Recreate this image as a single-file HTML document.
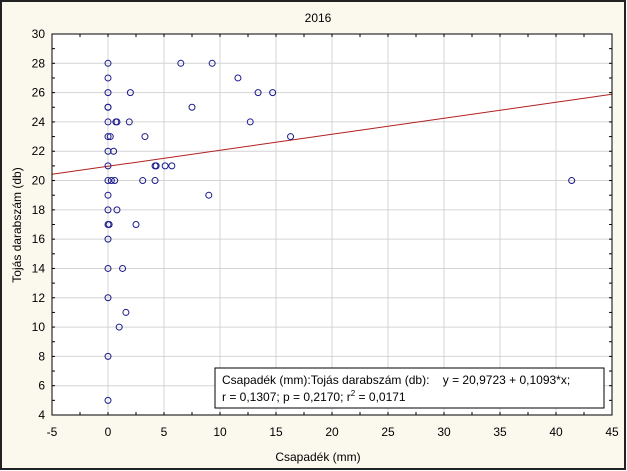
<!DOCTYPE html>
<html><head><meta charset="utf-8"><style>
body{margin:0;background:#fff}
svg{display:block;font-family:"Liberation Sans",sans-serif}
text{white-space:pre}
</style></head><body>
<svg id="chart" width="627" height="471">
<rect x="1" y="1" width="624" height="468" fill="#fbf8ee" stroke="#222" stroke-width="2"/>
<text x="318" y="22" font-size="12" text-anchor="middle">2016</text>
<rect x="52" y="34" width="560" height="381" fill="#fff"/>
<g id="grid"></g><g id="axes"></g><g id="marks"></g>
<rect x="52" y="34" width="560" height="381" fill="none" stroke="#000" stroke-width="1"/>
<text x="318" y="461" font-size="12" text-anchor="middle">Csapadék (mm)</text>
<text transform="translate(21,225) rotate(-90)" font-size="12" text-anchor="middle">Tojás darabszám (db)</text>
<g>
<rect x="215" y="368" width="389" height="40" fill="#fff" stroke="#000"/>
<text x="222" y="384" font-size="12" xml:space="preserve">Csapadék (mm):Tojás darabszám (db):    y = 20,9723 + 0,1093*x;</text>
<text x="222" y="401" font-size="12">r = 0,1307; p = 0,2170; r<tspan font-size="8" dy="-5">2</tspan><tspan dy="5"> = 0,0171</tspan></text>
</g>
</svg>
<script>
const xTicks=[-5,0,5,10,15,20,25,30,35,40,45];
const yTicks=[4,6,8,10,12,14,16,18,20,22,24,26,28,30];
const xVals=[0,0,0,0,0,0,0,0.2,0,0,0,0.3,0,0,0,0.1,0,0,0,0, 2.0,0.7,0.8,1.9,3.3,0.5,4.2,4.3,5.1,5.7,0.6,3.1,4.2,9.0,0.8,2.5,6.5,9.3,11.6,7.5,13.4,14.7,12.7,16.3,41.4,1.3,1.6,1.0];
const yVals=[28,27,26,25,25,24,23,23,22,21,20,20,19,18,17,17,16,14,12,8, 26,24,24,24,23,22,21,21,21,21,20,20,20,19,18,17,28,28,27,25,26,26,24,23,20,14,11,10];
const yVals5=[5];const xVals5=[0];
const regA=20.9723, regB=0.1093;
const X=v=>52+(v+5)*560/50, Y=v=>415-(v-4)*381/26;
const ns="http://www.w3.org/2000/svg";
function mk(t,a,p){const e=document.createElementNS(ns,t);for(const k in a)e.setAttribute(k,a[k]);document.getElementById(p).appendChild(e);return e;}
xTicks.forEach(v=>{
 const g=mk('line',{x1:X(v),x2:X(v),y1:34,y2:415,stroke:'#d4d4d4'},'grid');
 
 
 const t=mk('text',{x:X(v),y:436,'font-size':12,'text-anchor':'middle'},'axes');t.textContent=v;
 
 
});
yTicks.forEach(v=>{
 if(v>4&&v<30){const g=mk('line',{x1:52,x2:612,y1:Y(v),y2:Y(v),stroke:'#d4d4d4'},'grid');
 
 }
 const t=mk('text',{x:45,y:Y(v)+4,'font-size':12,'text-anchor':'end'},'axes');t.textContent=v;
 
 
});
for(let v=4;v<=30;v++){mk('line',{x1:52,x2:55,y1:Y(v),y2:Y(v),stroke:'#000'},'axes');mk('line',{x1:609,x2:612,y1:Y(v),y2:Y(v),stroke:'#000'},'axes');}
for(let v=-5;v<=45;v+=2.5){mk('line',{x1:X(v),x2:X(v),y1:34,y2:37,stroke:'#000'},'axes');mk('line',{x1:X(v),x2:X(v),y1:412,y2:415,stroke:'#000'},'axes');}
const rl=mk('line',{x1:X(-5),y1:Y(regA+regB*-5),x2:X(45),y2:Y(regA+regB*45),stroke:'#b02020','stroke-width':1},'marks');


xVals.concat(xVals5).forEach((x,i)=>{const y=yVals.concat(yVals5)[i];
 const c=mk('circle',{cx:X(x),cy:Y(y),r:3,fill:'none',stroke:'#1a1a8c','stroke-width':1},'marks');
 
 
});
</script>
</body></html>
